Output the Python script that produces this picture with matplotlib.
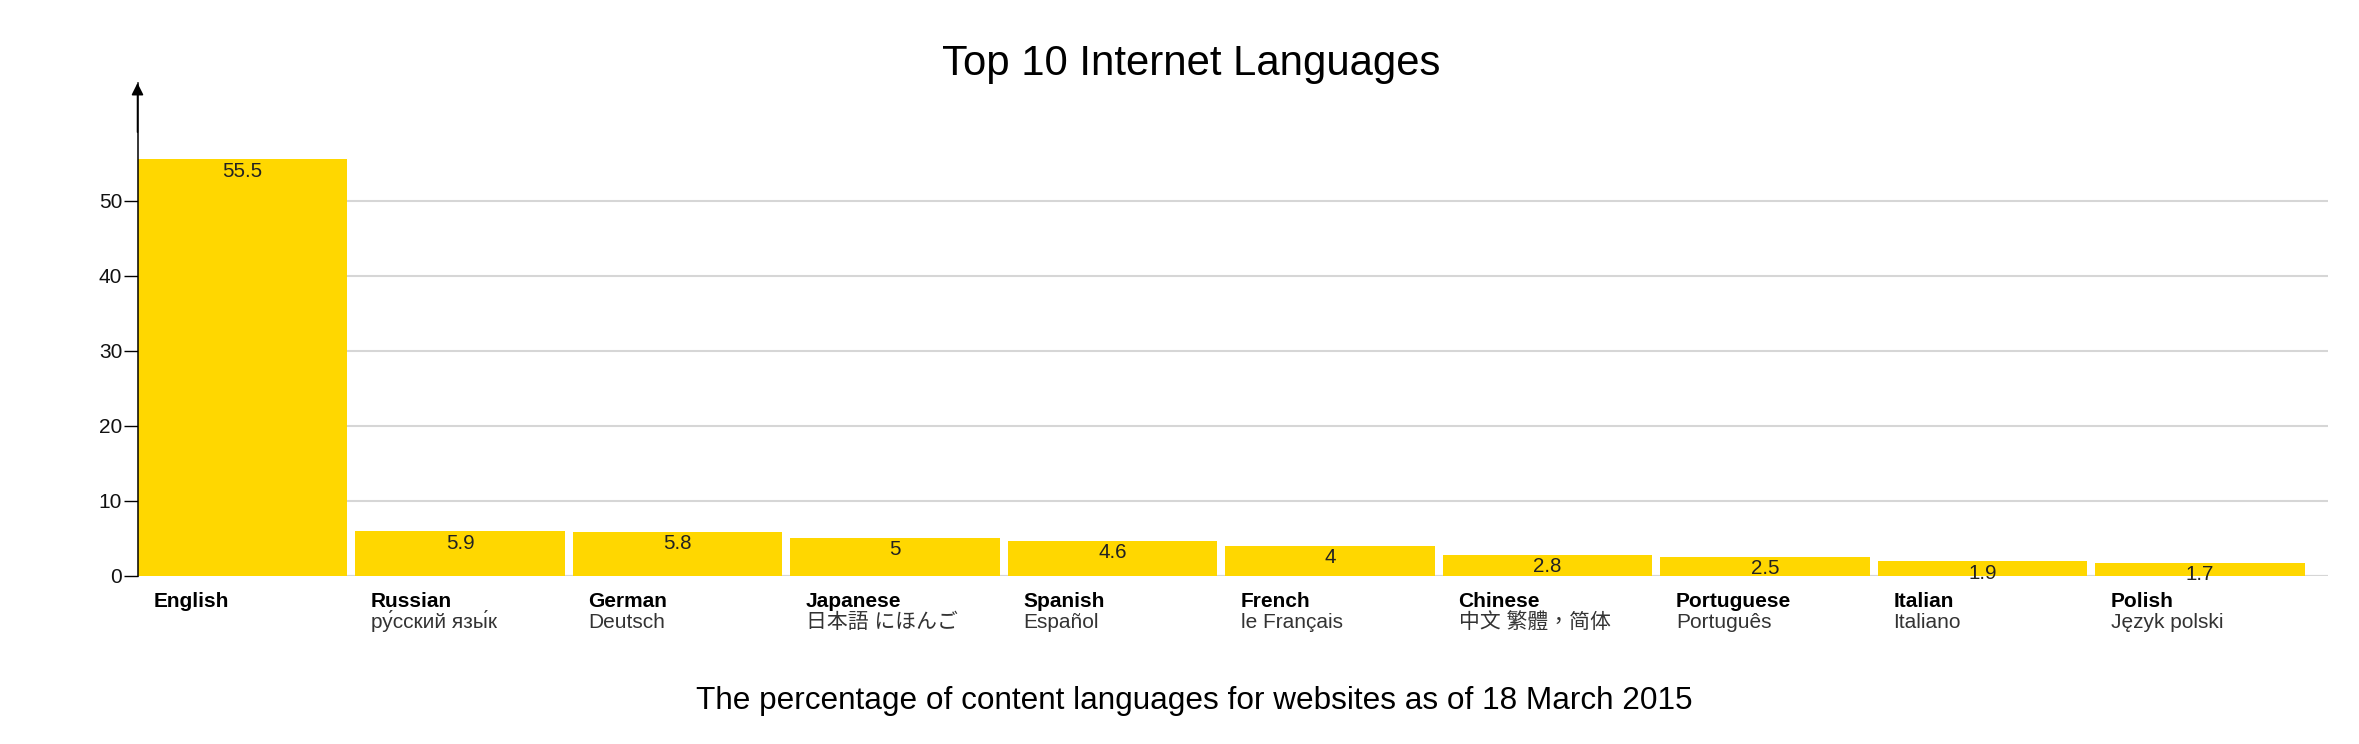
import matplotlib
matplotlib.use("Agg")
import matplotlib.pyplot as plt

languages = ["English", "Russian", "German", "Japanese", "Spanish",
             "French", "Chinese", "Portuguese", "Italian", "Polish"]
native_names = ["", "ру́сский язы́к", "Deutsch", "日本語 にほんご", "Español",
                "le Français", "中文 繁體，简体", "Português", "Italiano", "Język polski"]
percentages = [55.5, 5.9, 5.8, 5, 4.6, 4, 2.8, 2.5, 1.9, 1.7]
y_ticks = [0, 10, 20, 30, 40, 50]

title = "Top 10 Internet Languages"
subtitle = "The percentage of content languages for websites as of 18 March 2015"

plt.rcParams["font.family"] = ["Liberation Sans", "Noto Sans CJK JP", "DejaVu Sans"]

W, H = 2359, 744
fig = plt.figure(figsize=(W / 100, H / 100), dpi=100)

# axes box in pixels: left axis 137.5, right 2328, baseline 575.7, top 83
left_px, right_px, base_px, top_px = 137.5, 2328, 575.7, 83
ax = fig.add_axes([left_px / W, 1 - base_px / H,
                   (right_px - left_px) / W, (base_px - top_px) / H])

bar_w = 0.965
xs = list(range(len(languages)))
ax.bar(xs, percentages, width=bar_w, color="#FFD700", zorder=2)

# bars end at 2305 px, axes run a bit further
px_per_unit = (2305 - left_px) / (len(languages) - 1 + bar_w)
ax.set_xlim(-bar_w / 2, -bar_w / 2 + (right_px - left_px) / px_per_unit)
ax.set_ylim(0, (base_px - top_px) / 7.5)

ax.set_yticks(y_ticks)
ax.set_xticks([])
ax.tick_params(axis="y", length=10, width=1, color="black", pad=1,
               labelsize=15, labelcolor="#111111")
ax.set_axisbelow(True)
ax.yaxis.grid(True, color="#d6d6d6", lw=1.5)
ax.axhline(0, color="#d6d6d6", lw=1.5, zorder=1)

for s in ["top", "right", "bottom"]:
    ax.spines[s].set_visible(False)
ax.spines["left"].set_color("black")
ax.spines["left"].set_linewidth(1.1)
ax.spines["left"].set_zorder(3)

ax.annotate("", xy=(0, 1), xytext=(0, 0.9), xycoords="axes fraction",
            arrowprops=dict(arrowstyle="-|>,head_length=0.4,head_width=0.2",
                            color="black", lw=1.1, mutation_scale=18,
                            shrinkA=0, shrinkB=0))

for x, v, name, nat in zip(xs, percentages, languages, native_names):
    ax.annotate(f"{v:g}", xy=(x, v), xytext=(0, -12.3), textcoords="offset points",
                ha="center", va="baseline", fontsize=14.8, color="#222222",
                zorder=4, annotation_clip=False)
    ax.annotate(name, xy=(x - bar_w / 2, 0), xytext=(11.5, -22.7),
                textcoords="offset points", ha="left", va="baseline",
                fontsize=15, fontweight="bold", color="black",
                annotation_clip=False)
    if nat:
        fam = ["Liberation Sans", "Noto Sans CJK TC" if name == "Chinese" else "Noto Sans CJK JP"]
        ax.annotate(nat, xy=(x - bar_w / 2, 0), xytext=(11.5, -37.9),
                    textcoords="offset points", ha="left", va="baseline",
                    fontsize=15, color="#333333", family=fam,
                    annotation_clip=False)

fig.text(1191 / W, 1 - 75.5 / H, title, ha="center", va="baseline",
         fontsize=30.2, color="black")
fig.text(1194 / W, 1 - 708.6 / H, subtitle, ha="center", va="baseline",
         fontsize=22.7, color="black")

fig.savefig("out.png", dpi=100, facecolor="white")
